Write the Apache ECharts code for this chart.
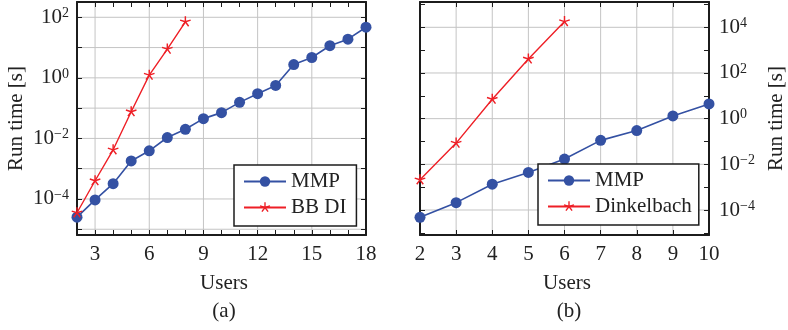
<!DOCTYPE html>
<html>
<head>
<meta charset="utf-8">
<script src="https://cdn.jsdelivr.net/npm/echarts@6/dist/echarts.min.js"></script>
<style>
  html, body { margin: 0; padding: 0; background: #fff; }
  #chart { width: 788px; height: 330px; }
</style>
</head>
<body>
<div id="chart"></div>
<script>
// (a) run time [s] against number of users
const usersA = [2, 3, 4, 5, 6, 7, 8, 9, 10, 11, 12, 13, 14, 15, 16, 17, 18];
const mmpA = [2.5e-5, 9.3e-5, 3.2e-4, 1.8e-3, 3.9e-3, 1.07e-2, 2.0e-2, 4.5e-2, 7.1e-2,
  0.155, 0.30, 0.56, 2.75, 4.7, 11.5, 19, 47];
const bbdiA = [3.5e-5, 4.0e-4, 4.2e-3, 7.6e-2, 1.23, 8.9, 71]; // users 2..8

// (b)
const usersB = [2, 3, 4, 5, 6, 7, 8, 9, 10];
const mmpB = [4.8e-5, 2.1e-4, 1.35e-3, 4.4e-3, 1.7e-2, 0.112, 0.30, 1.32, 4.4];
const dinkelbachB = [2.1e-3, 8.5e-2, 7.1, 410, 17800]; // users 2..6

// tick labels (x values, and powers of ten for y)
const xLabelsA = [3, 6, 9, 12, 15, 18];
const xLabelsB = [2, 3, 4, 5, 6, 7, 8, 9, 10];
const yLabelsA = [-4, -2, 0, 2];
const yLabelsB = [-4, -2, 0, 2, 4];
// grid lines inside the frames
const xGridA = [3, 6, 9, 12, 15];
const yGridA = [-5, -4, -3, -2, -1, 0, 1, 2];
const xGridB = [3, 4, 5, 6, 7, 8, 9];
const yGridB = [-4, -2, 0, 2, 4];

// axis extents (log10 of seconds for y)
const X_A = [2, 18], Y_A = [-5.19, 2.505];
const X_B = [2, 10], Y_B = [-5.095, 5.108];

const FONT = 'Liberation Serif';
const TXT = '#222';
const FRAME = '#1c1c1c';
const GRID = '#c4c4c4';
const BLUE = '#3451a3';
const RED = '#ee1f26';

function range(a, b) {
  const out = [];
  for (let i = a; i <= b; i++) out.push(i);
  return out;
}

// pgfplots-like "star" mark: five spokes from the centre
function starPath() {
  const w = 0.13;
  let d = '';
  for (let k = 0; k < 5; k++) {
    const a = -Math.PI / 2 + k * 2 * Math.PI / 5;
    const dx = Math.cos(a), dy = Math.sin(a);
    const px = -dy * w, py = dx * w;
    const pts = [[px, py], [dx + px, dy + py], [dx - px, dy - py], [-px, -py]];
    d += 'M' + pts.map(p => (p[0] * 50 + 50).toFixed(2) + ' ' + (p[1] * 50 + 50).toFixed(2)).join(' L') + ' Z ';
  }
  // tiny anchor so the box stays centred on the middle
  d += 'M50 100 L50.05 100 L50 99.95 Z';
  return 'path://' + d;
}
const STAR = starPath();

function pow10Label(v) {
  const e = Math.round(v);
  return '{b|10}{s|' + (e < 0 ? '\u2212' + (-e) : e) + '}';
}

const labelRich = {
  b: { fontFamily: FONT, fontSize: 21, color: TXT, lineHeight: 22 },
  s: { fontFamily: FONT, fontSize: 14, color: TXT, lineHeight: 14, verticalAlign: 'top' }
};

function xAxis(grid, ext, pos, labels) {
  return {
    gridIndex: grid, type: 'value', min: ext[0], max: ext[1], interval: 1, position: pos, z: 1.5,
    axisLine: { show: true, onZero: false, lineStyle: { color: FRAME, width: 2 } },
    axisTick: { show: true, inside: true, length: 5, lineStyle: { color: FRAME, width: 1 } },
    axisLabel: labels ? { show: true, customValues: labels, margin: 9,
      fontFamily: FONT, fontSize: 21, color: TXT } : { show: false },
    splitLine: { show: false },
    name: labels ? 'Users' : '',
    nameLocation: 'middle', nameGap: 38,
    nameTextStyle: { fontFamily: FONT, fontSize: 21, color: TXT, padding: [0, 0, 0, 5] }
  };
}

function yAxis(grid, ext, pos, labels, nameGap) {
  return {
    gridIndex: grid, type: 'value', min: ext[0], max: ext[1], position: pos, z: 1.5,
    axisLine: { show: true, onZero: false, lineStyle: { color: FRAME, width: 2 } },
    axisTick: { show: true, inside: true, length: 5, customValues: range(Math.ceil(ext[0]), Math.floor(ext[1])),
      lineStyle: { color: FRAME, width: 1 } },
    axisLabel: labels ? { show: true, customValues: labels, margin: pos === 'left' ? 8 : 10,
      formatter: pow10Label, rich: labelRich } : { show: false },
    splitLine: { show: false },
    name: labels ? 'Run time [s]' : '',
    nameLocation: 'middle', nameGap: nameGap || 50,
    nameTextStyle: { fontFamily: FONT, fontSize: 21, color: TXT }
  };
}

// light grid lines, drawn as plain line series under the data
function gridSeries(xi, yi, xs, ys, xExt, yExt) {
  const base = {
    type: 'line', xAxisIndex: xi, yAxisIndex: yi, z: 1, silent: true,
    symbol: 'none', animation: false, emphasis: { disabled: true },
    lineStyle: { color: GRID, width: 1 }
  };
  const out = [];
  xs.forEach(x => out.push(Object.assign({}, base, { data: [[x, yExt[0]], [x, yExt[1]]] })));
  ys.forEach(y => out.push(Object.assign({}, base, { data: [[xExt[0], y], [xExt[1], y]] })));
  return out;
}

function toPoints(xs, ys) {
  return ys.map((y, i) => [xs[i], Math.log10(y)]);
}

const chart = echarts.init(document.getElementById('chart'), null, { renderer: 'canvas' });

const option = {
  animation: false,
  backgroundColor: '#fff',
  grid: [
    { left: 77, top: 2, width: 289, height: 233, show: false },
    { left: 420, top: 2, width: 289, height: 233, show: false }
  ],
  xAxis: [
    xAxis(0, X_A, 'bottom', xLabelsA),
    xAxis(0, X_A, 'top', null),
    xAxis(1, X_B, 'bottom', xLabelsB),
    xAxis(1, X_B, 'top', null)
  ],
  yAxis: [
    yAxis(0, Y_A, 'left', yLabelsA, 50),
    yAxis(0, Y_A, 'right', null),
    yAxis(1, Y_B, 'right', yLabelsB, 57),
    yAxis(1, Y_B, 'left', null)
  ],
  legend: [
    {
      data: ['MMP', 'BB DI'],
      left: 234, top: 165, orient: 'vertical',
      itemWidth: 42, itemHeight: 13, itemGap: 5,
      padding: [6, 10, 8, 9],
      backgroundColor: '#fff', borderColor: FRAME, borderWidth: 1.5,
      textStyle: { fontFamily: FONT, fontSize: 21, color: TXT }
    },
    {
      data: ['MMP', 'Dinkelbach'],
      left: 538, top: 164, orient: 'vertical',
      itemWidth: 42, itemHeight: 13, itemGap: 5,
      padding: [6, 7, 8, 9],
      backgroundColor: '#fff', borderColor: FRAME, borderWidth: 1.5,
      textStyle: { fontFamily: FONT, fontSize: 21, color: TXT }
    }
  ],
  graphic: [
    { type: 'text', x: 224, y: 311, style: { text: '(a)', align: 'center', verticalAlign: 'middle',
      fontFamily: FONT, fontSize: 21, fill: TXT } },
    { type: 'text', x: 569, y: 311, style: { text: '(b)', align: 'center', verticalAlign: 'middle',
      fontFamily: FONT, fontSize: 21, fill: TXT } }
  ],
  series: [
    ...gridSeries(0, 0, xGridA, yGridA, X_A, Y_A),
    ...gridSeries(2, 2, xGridB, yGridB, X_B, Y_B),
    {
      name: 'MMP', type: 'line', xAxisIndex: 0, yAxisIndex: 0, z: 2,
      data: toPoints(usersA, mmpA),
      symbol: 'circle', symbolSize: 11,
      lineStyle: { color: BLUE, width: 1.6 }, itemStyle: { color: BLUE }
    },
    {
      name: 'BB DI', type: 'line', xAxisIndex: 0, yAxisIndex: 0, z: 2,
      data: toPoints(usersA, bbdiA),
      symbol: STAR, symbolSize: 11,
      lineStyle: { color: RED, width: 1.4 }, itemStyle: { color: RED }
    },
    {
      name: 'MMP', type: 'line', xAxisIndex: 2, yAxisIndex: 2, z: 2,
      data: toPoints(usersB, mmpB),
      symbol: 'circle', symbolSize: 11,
      lineStyle: { color: BLUE, width: 1.6 }, itemStyle: { color: BLUE }
    },
    {
      name: 'Dinkelbach', type: 'line', xAxisIndex: 2, yAxisIndex: 2, z: 2,
      data: toPoints(usersB, dinkelbachB),
      symbol: STAR, symbolSize: 11,
      lineStyle: { color: RED, width: 1.4 }, itemStyle: { color: RED }
    }
  ]
};

chart.setOption(option);
</script>
</body>
</html>
